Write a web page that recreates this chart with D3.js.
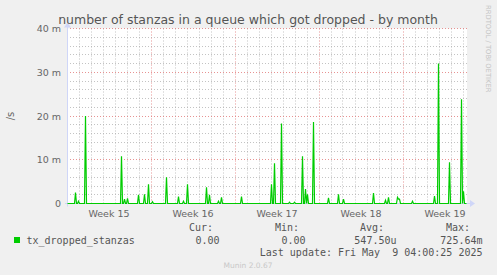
<!DOCTYPE html>
<html>
<head>
<meta charset="utf-8">
<script src="https://cdn.jsdelivr.net/npm/d3@7"></script>
<style>
  body { margin: 0; background: #f0f0f0; }
  svg { display: block; }
  text { font-family: "DejaVu Sans", sans-serif; fill: #666; }
  .mono { font-family: "DejaVu Sans Mono", monospace; font-size: 10px; fill: #555; }
</style>
</head>
<body>
<div id="chart"></div>
<script>
// munin month graph, one sample every 2 hours (one pixel each)
var startTime = "2025-04-07 00:00";
var slotHours = 2;
var slotCount = 400;

// spikes (value in milli per second), everything else is 0
var spikeTimes = [
  "2025-04-07 16:00", "2025-04-07 22:00", "2025-04-08 12:00", "2025-04-11 12:00",
  "2025-04-11 18:00", "2025-04-12 00:00", "2025-04-12 22:00", "2025-04-13 10:00",
  "2025-04-13 18:00", "2025-04-14 02:00", "2025-04-15 06:00", "2025-04-16 06:00",
  "2025-04-16 16:00", "2025-04-17 00:00", "2025-04-18 14:00", "2025-04-18 20:00",
  "2025-04-19 14:00", "2025-04-19 20:00", "2025-04-21 12:00", "2025-04-24 00:00",
  "2025-04-24 06:00", "2025-04-24 20:00", "2025-04-25 12:00", "2025-04-25 22:00",
  "2025-04-26 14:00", "2025-04-26 20:00", "2025-04-27 00:00", "2025-04-27 12:00",
  "2025-04-28 18:00", "2025-04-29 14:00", "2025-04-30 00:00", "2025-05-02 12:00",
  "2025-05-03 12:00", "2025-05-03 18:00", "2025-05-04 12:00", "2025-05-04 14:00",
  "2025-05-04 16:00", "2025-05-05 18:00", "2025-05-07 14:00", "2025-05-07 22:00",
  "2025-05-08 20:00", "2025-05-09 20:00", "2025-05-10 00:00"
];
var spikeValues = [
  2.5, 0.5, 20.0, 10.8,
  1.0, 1.2, 2.0, 2.1,
  4.4, 0.4, 6.0, 1.6,
  0.5, 4.4, 3.7, 2.0,
  0.5, 1.4, 1.6, 4.4,
  9.2, 18.3, 0.3, 0.3,
  10.8, 3.3, 2.1, 18.6,
  1.3, 2.1, 1.0, 2.4,
  0.75, 1.4, 1.4, 1.0,
  1.0, 0.5, 1.7, 32.0,
  9.4, 23.8, 2.8
];

var yTicks = [0, 10, 20, 30, 40];
var yTickLabels = ["0", "10 m", "20 m", "30 m", "40 m"];
var weekLabels = ["Week 15", "Week 16", "Week 17", "Week 18", "Week 19"];
var weekStarts = ["2025-04-07", "2025-04-14", "2025-04-21", "2025-04-28", "2025-05-05"];

var legendName = "tx_dropped_stanzas";
var legendHeads = ["Cur:", "Min:", "Avg:", "Max:"];
var legendValues = ["0.00", "0.00", "547.50u", "725.64m"];
var lastUpdate = "Last update: Fri May  9 04:00:25 2025";

var width = 497, height = 275;
var plotLeft = 67, plotRight = 467, plotTop = 28.5, plotBottom = 203.5;

var parseTime = d3.utcParse("%Y-%m-%d %H:%M");
var parseDay = d3.utcParse("%Y-%m-%d");
var t0 = parseTime(startTime);
var slotMs = slotHours * 3600 * 1000;
var t1 = new Date(+t0 + slotCount * slotMs);

// build the series: zeros with the spikes dropped in
var series = d3.range(slotCount).map(i => ({t: new Date(+t0 + i * slotMs), v: 0}));
spikeTimes.forEach(function(s, i) {
  var idx = Math.round((parseTime(s) - t0) / slotMs);
  if (idx >= 0 && idx < slotCount) series[idx].v = spikeValues[i];
});

var x = d3.scaleUtc().domain([t0, t1]).range([plotLeft, plotRight]);
var y = d3.scaleLinear().domain([0, 40]).range([plotBottom, plotTop]);

var svg = d3.select("#chart").append("svg")
  .attr("width", width)
  .attr("height", height);

svg.append("rect").attr("width", width).attr("height", height).attr("fill", "#f0f0f0");
svg.append("rect")
  .attr("x", plotLeft).attr("y", plotTop)
  .attr("width", plotRight - plotLeft).attr("height", plotBottom - plotTop)
  .attr("fill", "#fff");

var snap = v => Math.round(v - 0.5) + 0.5;

// grid: daily / 2m minor, weekly / 10m major
var grid = svg.append("g").attr("stroke-dasharray", "1,2").attr("stroke-width", 1);
d3.utcDay.range(t0, t1).forEach(function(d) {
  if (+d === +t0) return;
  var major = +d3.utcMonday.floor(d) === +d;
  grid.append("line")
    .attr("x1", snap(x(d))).attr("x2", snap(x(d)))
    .attr("y1", plotTop).attr("y2", plotBottom)
    .attr("stroke", major ? "rgba(225,120,120,0.8)" : "rgba(170,170,170,0.7)");
});
d3.range(2, 41, 2).forEach(function(v) {
  var major = v % 10 === 0;
  grid.append("line")
    .attr("x1", plotLeft).attr("x2", plotRight)
    .attr("y1", snap(y(v))).attr("y2", snap(y(v)))
    .attr("stroke", major ? "rgba(225,120,120,0.8)" : "rgba(170,170,170,0.7)");
});

// axes
var axisCol = "#cfd6f8";
svg.append("line").attr("x1", plotLeft - 2).attr("x2", plotRight + 4)
  .attr("y1", plotBottom).attr("y2", plotBottom).attr("stroke", axisCol);
svg.append("line").attr("x1", plotLeft + 0.5).attr("x2", plotLeft + 0.5)
  .attr("y1", plotBottom + 3).attr("y2", plotTop - 3).attr("stroke", axisCol);
svg.append("path").attr("d", `M${plotRight + 3},${plotBottom - 3.5}L${plotRight + 8},${plotBottom}L${plotRight + 3},${plotBottom + 3.5}Z`)
  .attr("fill", axisCol);
svg.append("path").attr("d", `M${plotLeft - 3},${plotTop - 1}L${plotLeft + 0.5},${plotTop - 6}L${plotLeft + 4},${plotTop - 1}Z`)
  .attr("fill", axisCol);

// data line
var line = d3.line().x(d => x(d.t) + 0.5).y(d => y(d.v));
svg.append("path")
  .datum(series)
  .attr("d", line)
  .attr("fill", "none")
  .attr("stroke", "#00cc00")
  .attr("stroke-width", 1.2);

// y labels
svg.selectAll(".ylab").data(yTicks).enter().append("text")
  .attr("x", 61).attr("y", d => y(d) + 3.5)
  .attr("text-anchor", "end")
  .style("font-size", "9.5px")
  .text((d, i) => yTickLabels[i]);

// week labels, centred mid-week
svg.selectAll(".xlab").data(weekStarts).enter().append("text")
  .attr("x", d => x(new Date(+parseDay(d) + 3.5 * 86400000)))
  .attr("y", 217)
  .attr("text-anchor", "middle")
  .style("font-size", "9.5px")
  .text((d, i) => weekLabels[i]);

// title
svg.append("text")
  .attr("x", 248).attr("y", 24)
  .attr("text-anchor", "middle")
  .style("font-size", "12.5px")
  .style("fill", "#555")
  .text("number of stanzas in a queue which got dropped - by month");

svg.append("text")
  .attr("transform", "translate(14,116) rotate(-90)")
  .attr("text-anchor", "middle")
  .style("font-size", "10px")
  .text("/s");

svg.append("text")
  .attr("transform", "translate(486,5) rotate(90)")
  .style("font-size", "6.8px")
  .style("fill", "#c4c4c4")
  .text("RRDTOOL / TOBI OETIKER");

// legend
var colRight = [213, 299, 384, 470];
var valRight = [219.5, 305.5, 396.5, 482.5];
svg.selectAll(".lh").data(legendHeads).enter().append("text")
  .attr("class", "mono")
  .attr("x", (d, i) => colRight[i]).attr("y", 231)
  .attr("text-anchor", "end")
  .text(d => d);
svg.append("rect").attr("x", 14).attr("y", 237).attr("width", 6).attr("height", 6).attr("fill", "#00cc00");
svg.append("text").attr("class", "mono").attr("x", 26.5).attr("y", 243.5).text(legendName);
svg.selectAll(".lv").data(legendValues).enter().append("text")
  .attr("class", "mono")
  .attr("x", (d, i) => valRight[i]).attr("y", 243.5)
  .attr("text-anchor", "end")
  .text(d => d);
svg.append("text").attr("class", "mono")
  .attr("x", 482.5).attr("y", 255.5)
  .attr("text-anchor", "end")
  .style("white-space", "pre")
  .text(lastUpdate);

svg.append("text")
  .attr("x", 248).attr("y", 267.5)
  .attr("text-anchor", "middle")
  .style("font-size", "7.5px")
  .style("fill", "#c8c8c8")
  .text("Munin 2.0.67");
</script>
</body>
</html>
